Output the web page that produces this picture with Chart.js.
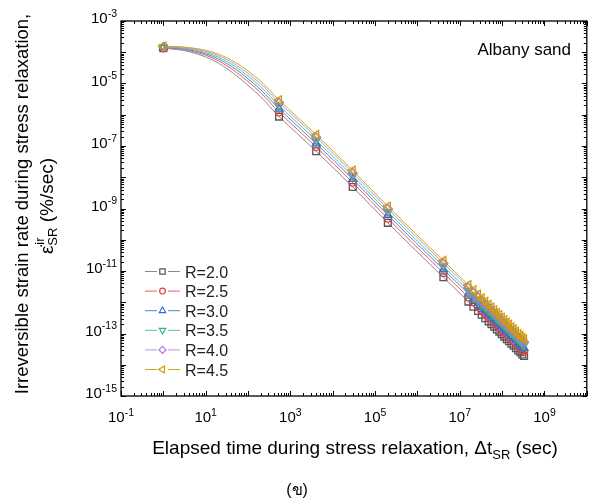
<!DOCTYPE html>
<html>
<head>
<meta charset="utf-8">
<script src="https://cdn.jsdelivr.net/npm/chart.js@4.4.1/dist/chart.umd.min.js"></script>
<style>
html, body { margin: 0; padding: 0; background: #fff; }
canvas { display: block; }
</style>
</head>
<body>
<canvas id="myChart" width="593" height="500"></canvas>
<script>
var seriesNames = ['R=2.0', 'R=2.5', 'R=3.0', 'R=3.5', 'R=4.0', 'R=4.5'];

// elapsed time of each plotted marker (sec)
var markerTimes = [1, 540, 4070, 2.96e4, 2.0e5, 4.1e6,
  1.6e7, 2.1e7, 2.7e7, 3.3e7, 4.0e7, 4.8e7, 5.6e7, 6.5e7, 7.5e7, 8.6e7, 9.8e7,
  1.12e8, 1.28e8, 1.45e8, 1.65e8, 1.87e8, 2.12e8, 2.4e8, 2.7e8, 3.0e8, 3.3e8];

// irreversible strain rate at the markers (%/sec)
var rateR20 = [1.35e-4, 8.71e-7, 6.76e-8, 4.90e-9, 3.47e-10, 6.31e-12,
  1.05e-12, 7.24e-13, 5.25e-13, 3.98e-13, 3.09e-13, 2.45e-13, 2.00e-13, 1.66e-13, 1.35e-13, 1.15e-13,
  9.55e-14, 7.94e-14, 6.61e-14, 5.62e-14, 4.68e-14, 4.07e-14, 3.39e-14, 2.88e-14, 2.51e-14, 2.14e-14, 1.91e-14];
var rateR25 = [1.38e-4, 1.20e-6, 9.33e-8, 6.76e-9, 4.79e-10, 8.71e-12,
  1.45e-12, 1.00e-12, 7.25e-13, 5.49e-13, 4.26e-13, 3.38e-13, 2.76e-13, 2.29e-13, 1.86e-13, 1.59e-13,
  1.32e-13, 1.10e-13, 9.12e-14, 7.76e-14, 6.46e-14, 5.62e-14, 4.68e-14, 3.97e-14, 3.46e-14, 2.95e-14, 2.64e-14];
var rateR30 = [1.41e-4, 1.55e-6, 1.20e-7, 8.72e-9, 6.18e-10, 1.12e-11,
  1.87e-12, 1.29e-12, 9.35e-13, 7.08e-13, 5.50e-13, 4.36e-13, 3.56e-13, 2.95e-13, 2.40e-13, 2.05e-13,
  1.70e-13, 1.41e-13, 1.18e-13, 1.00e-13, 8.33e-14, 7.24e-14, 6.03e-14, 5.13e-14, 4.47e-14, 3.81e-14, 3.40e-14];
var rateR35 = [1.45e-4, 1.95e-6, 1.51e-7, 1.10e-8, 7.77e-10, 1.41e-11,
  2.35e-12, 1.62e-12, 1.18e-12, 8.92e-13, 6.92e-13, 5.49e-13, 4.48e-13, 3.72e-13, 3.02e-13, 2.58e-13,
  2.14e-13, 1.78e-13, 1.48e-13, 1.26e-13, 1.05e-13, 9.12e-14, 7.59e-14, 6.45e-14, 5.62e-14, 4.79e-14, 4.28e-14];
var rateR40 = [1.48e-4, 2.46e-6, 1.91e-7, 1.38e-8, 9.79e-10, 1.78e-11,
  2.96e-12, 2.04e-12, 1.48e-12, 1.12e-12, 8.71e-13, 6.91e-13, 5.64e-13, 4.68e-13, 3.81e-13, 3.24e-13,
  2.69e-13, 2.24e-13, 1.86e-13, 1.58e-13, 1.32e-13, 1.15e-13, 9.56e-14, 8.12e-14, 7.08e-14, 6.03e-14, 5.39e-14];
var rateR45 = [1.55e-4, 2.96e-6, 2.30e-7, 1.67e-8, 1.18e-9, 2.15e-11,
  3.57e-12, 2.46e-12, 1.79e-12, 1.35e-12, 1.05e-12, 8.33e-13, 6.80e-13, 5.64e-13, 4.59e-13, 3.91e-13,
  3.25e-13, 2.70e-13, 2.25e-13, 1.91e-13, 1.59e-13, 1.38e-13, 1.15e-13, 9.79e-14, 8.53e-14, 7.28e-14, 6.49e-14];

var curveTimes = [2, 4, 10, 20, 50, 100, 200, 1500];
var curveR20 = [1.23e-4, 1.05e-4, 7.08e-5, 4.47e-5, 1.91e-5, 8.71e-6, 3.72e-6, 2.40e-7];
var curveR25 = [1.30e-4, 1.135e-4, 8.05e-5, 5.31e-5, 2.42e-5, 1.15e-5, 5.01e-6, 3.31e-7];
var curveR30 = [1.36e-4, 1.205e-4, 8.89e-5, 6.07e-5, 2.91e-5, 1.42e-5, 6.31e-6, 4.27e-7];
var curveR35 = [1.42e-4, 1.28e-4, 9.77e-5, 6.90e-5, 3.47e-5, 1.73e-5, 7.85e-6, 5.38e-7];
var curveR40 = [1.48e-4, 1.35e-4, 1.07e-4, 7.78e-5, 4.09e-5, 2.10e-5, 9.66e-6, 6.77e-7];
var curveR45 = [1.53e-4, 1.42e-4, 1.16e-4, 8.71e-5, 4.79e-5, 2.51e-5, 1.175e-5, 8.16e-7];

// labelled decades
var xTickExp = [-1, 1, 3, 5, 7, 9];
var yTickExp = [-3, -5, -7, -9, -11, -13, -15];

var rates = [rateR20, rateR25, rateR30, rateR35, rateR40, rateR45];
var curves = [curveR20, curveR25, curveR30, curveR35, curveR40, curveR45];

var lineColors = ['#8a8a8a', '#f05a5a', '#4a86e0', '#55c593', '#b98fe8', '#d6a514'];
var markColors = ['#555555', '#f03c3c', '#2f6fdc', '#3cb47c', '#a877e0', '#d09c00'];
var markStyles = ['rect', 'circle', 'triangle', 'triangle', 'rectRot', 'triangle'];
var markRot = [0, 0, 0, 180, 0, -90];
var markRadius = [4.8, 3.6, 4.6, 4.6, 4.4, 4.9];

var FONT = '"Liberation Sans", Arial, sans-serif';

function pts(xs, ys) {
  var out = [];
  for (var i = 0; i < xs.length; i++) out.push({x: xs[i], y: ys[i]});
  return out;
}

var datasets = [];
for (var s = 0; s < 6; s++) {
  var linePts = pts(markerTimes, rates[s]).concat(pts(curveTimes, curves[s]));
  linePts.sort(function (a, b) { return a.x - b.x; });
  datasets.push({
    label: seriesNames[s] + ' curve',
    data: linePts,
    showLine: true,
    borderColor: lineColors[s],
    borderWidth: 1,
    pointRadius: 0,
    cubicInterpolationMode: 'monotone',
    order: 20 - s
  });
  datasets.push({
    label: seriesNames[s],
    data: pts(markerTimes, rates[s]),
    showLine: false,
    borderColor: markColors[s],
    backgroundColor: 'rgba(0,0,0,0)',
    pointStyle: markStyles[s],
    rotation: markRot[s],
    pointRadius: markRadius[s],
    pointBorderWidth: 1.3,
    order: 10 - s
  });
}

function powLabel(ctx, exp, x, y, align) {
  ctx.font = '15px ' + FONT;
  var wb = ctx.measureText('10').width;
  ctx.font = '10.5px ' + FONT;
  var ws = ctx.measureText(String(exp)).width;
  var x0 = align === 'center' ? x - (wb + ws) / 2 : x - wb - ws;
  ctx.textAlign = 'left';
  ctx.textBaseline = 'alphabetic';
  ctx.font = '15px ' + FONT;
  ctx.fillText('10', x0, y);
  ctx.font = '10.5px ' + FONT;
  ctx.fillText(String(exp), x0 + wb, y - 6.5);
}

var framePlugin = {
  id: 'frame',
  afterDraw: function (chart) {
    var ctx = chart.ctx;
    var a = chart.chartArea;
    var xs = chart.scales.x, ys = chart.scales.y;
    ctx.save();
    ctx.strokeStyle = '#000';
    ctx.fillStyle = '#000';
    ctx.lineWidth = 1.3;
    ctx.strokeRect(a.left, a.top, a.right - a.left, a.bottom - a.top);

    // ticks, pointing inward on all four sides
    ctx.lineWidth = 1;
    ctx.beginPath();
    var e, m, p, len;
    for (e = -1; e <= 10; e++) {
      for (m = 1; m <= 9; m++) {
        if (e === 10 && m > 1) break;
        p = Math.round(xs.getPixelForValue(m * Math.pow(10, e))) + 0.5;
        len = m === 1 ? 5 : 3;
        ctx.moveTo(p, a.bottom); ctx.lineTo(p, a.bottom - len);
        ctx.moveTo(p, a.top); ctx.lineTo(p, a.top + len);
      }
    }
    for (e = -15; e <= -3; e++) {
      for (m = 1; m <= 9; m++) {
        if (e === -3 && m > 1) break;
        p = Math.round(ys.getPixelForValue(m * Math.pow(10, e))) + 0.5;
        len = m === 1 ? 5 : 3;
        ctx.moveTo(a.left, p); ctx.lineTo(a.left + len, p);
        ctx.moveTo(a.right, p); ctx.lineTo(a.right - len, p);
      }
    }
    ctx.stroke();

    // tick labels
    xTickExp.forEach(function (ex) {
      powLabel(ctx, ex, xs.getPixelForValue(Math.pow(10, ex)), 422, 'center');
    });
    yTickExp.forEach(function (ex) {
      powLabel(ctx, ex, 117, ys.getPixelForValue(Math.pow(10, ex)) + 2, 'right');
    });

    // x title
    var t1 = 'Elapsed time during stress relaxation, \u0394t', t2 = 'SR', t3 = ' (sec)';
    ctx.font = '19px ' + FONT;
    var w1 = ctx.measureText(t1).width, w3 = ctx.measureText(t3).width;
    ctx.font = '13px ' + FONT;
    var w2 = ctx.measureText(t2).width;
    var xx = 355 - (w1 + w2 + w3) / 2;
    ctx.textAlign = 'left';
    ctx.font = '19px ' + FONT;
    ctx.fillText(t1, xx, 454);
    ctx.fillText(t3, xx + w1 + w2, 454);
    ctx.font = '13px ' + FONT;
    ctx.fillText(t2, xx + w1, 459);

    // y title, two rotated lines
    ctx.save();
    ctx.translate(28, 204);
    ctx.rotate(-Math.PI / 2);
    ctx.textAlign = 'center';
    ctx.font = '18.5px ' + FONT;
    ctx.fillText('Irreversible strain rate during stress relaxation,', 0, 0);
    ctx.restore();

    ctx.save();
    ctx.translate(53, 206);
    ctx.rotate(-Math.PI / 2);
    ctx.textAlign = 'left';
    ctx.font = '19px ' + FONT;
    var eps = '\u03b5\u0307', rest = ' (%/sec)';
    var we = ctx.measureText('\u03b5').width, wr = ctx.measureText(rest).width;
    ctx.font = '13px ' + FONT;
    var wsub = Math.max(ctx.measureText('SR').width, ctx.measureText('ir').width);
    var y0 = -(we + wsub + wr) / 2;
    ctx.font = '19px ' + FONT;
    ctx.fillText(eps, y0, 0);
    ctx.fillText(rest, y0 + we + wsub, 0);
    ctx.font = '13px ' + FONT;
    ctx.fillText('ir', y0 + we + 1, -9);
    ctx.fillText('SR', y0 + we, 4);
    ctx.restore();

    // caption and annotation
    ctx.textAlign = 'center';
    ctx.font = '16px ' + FONT;
    ctx.fillText('(\u0e02)', 297, 495);
    ctx.textAlign = 'right';
    ctx.font = '17px ' + FONT;
    ctx.fillText('Albany sand', 571, 55);

    // legend
    var H = Chart.helpers;
    for (var s = 0; s < 6; s++) {
      var ry = 271.5 + s * 19.6;
      ctx.strokeStyle = lineColors[s];
      ctx.lineWidth = 1;
      ctx.beginPath();
      ctx.moveTo(145, ry); ctx.lineTo(157, ry);
      ctx.moveTo(168, ry); ctx.lineTo(180, ry);
      ctx.stroke();
      ctx.strokeStyle = markColors[s];
      ctx.fillStyle = 'rgba(0,0,0,0)';
      ctx.lineWidth = 1.2;
      H.drawPoint(ctx, {pointStyle: markStyles[s], rotation: markRot[s],
        radius: markRadius[s] * 0.8, borderWidth: 1.2}, 162.5, ry);
      ctx.fillStyle = '#222';
      ctx.textAlign = 'left';
      ctx.font = '16px ' + FONT;
      ctx.fillText(seriesNames[s], 185, ry + 6);
    }
    ctx.restore();
  }
};

var ctx = document.getElementById('myChart');
var myChart = new Chart(ctx, {
  type: 'scatter',
  data: { datasets: datasets },
  options: {
    responsive: false,
    animation: false,
    layout: { padding: { left: 121, right: 5, top: 21, bottom: 104 } },
    scales: {
      x: { type: 'logarithmic', min: 0.1, max: 1e10, display: false },
      y: { type: 'logarithmic', min: 1e-15, max: 1e-3, display: false }
    },
    plugins: {
      legend: { display: false },
      tooltip: { enabled: false }
    }
  },
  plugins: [framePlugin]
});
</script>
</body>
</html>
